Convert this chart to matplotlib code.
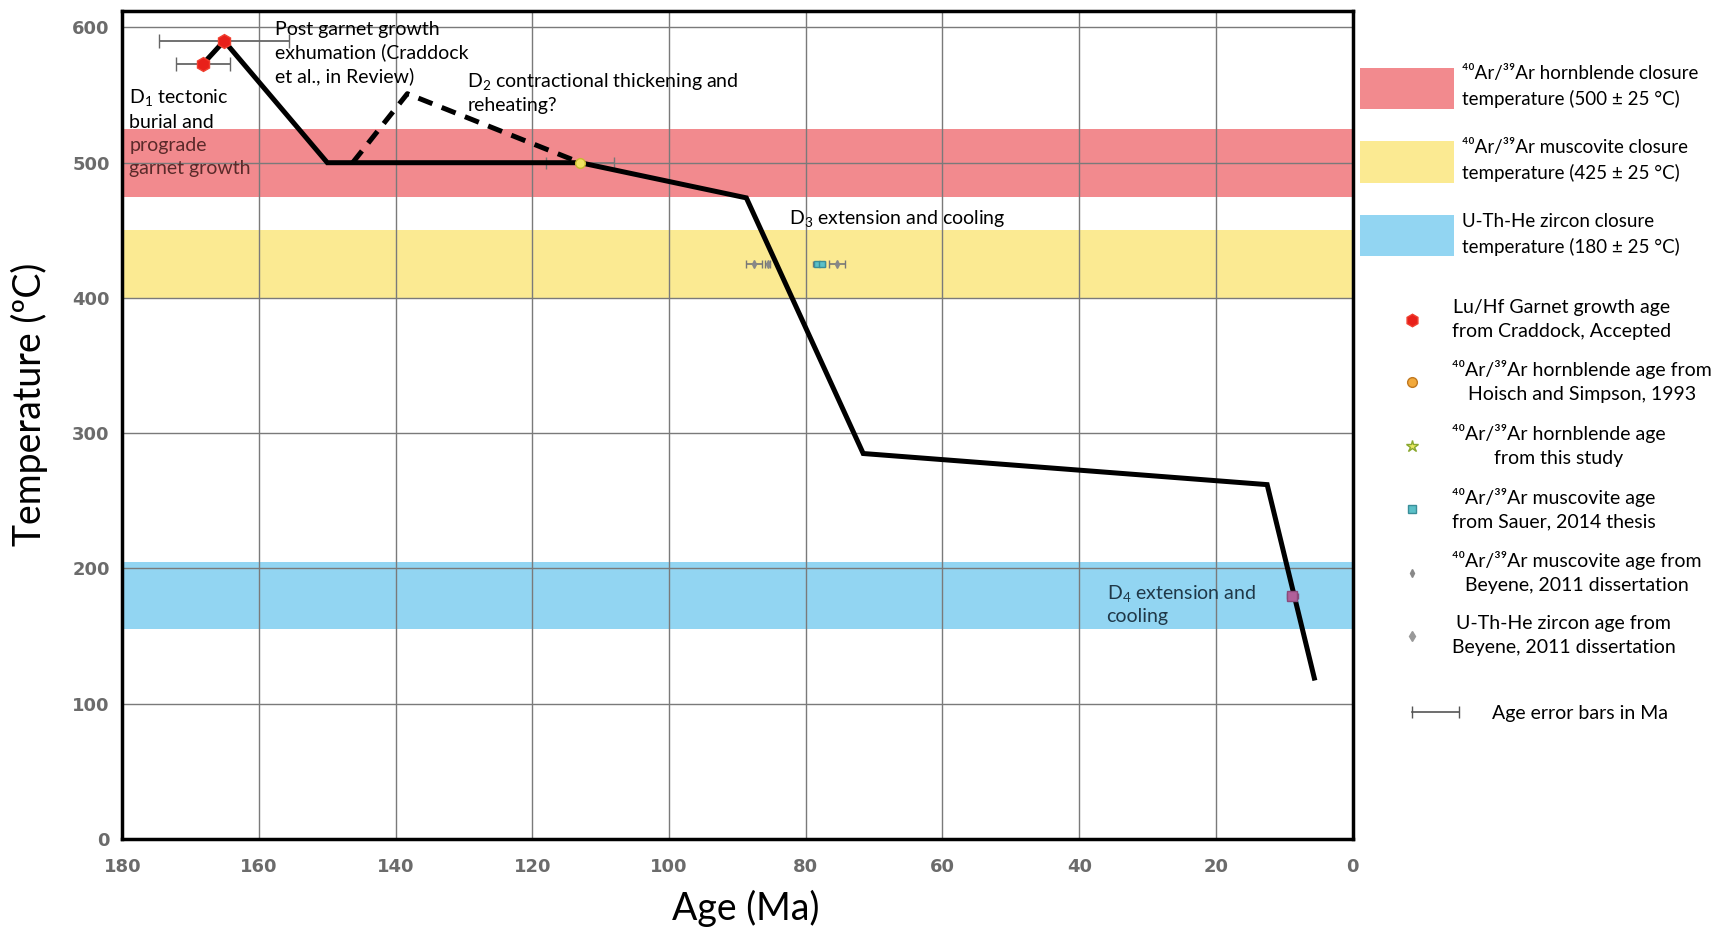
import matplotlib.pyplot as plt
from matplotlib.lines import Line2D
from matplotlib.patches import Patch
from matplotlib.legend_handler import HandlerLine2D

plt.rcParams['mathtext.fontset'] = 'custom'
plt.rcParams['mathtext.rm'] = 'Lato'
plt.rcParams['mathtext.it'] = 'Lato:italic'
plt.rcParams['mathtext.bf'] = 'Lato:bold'

# t-t path (age in Ma, temperature in C)
path_age = [168.2, 165.1, 150, 113, 88.7, 71.6, 12.5, 5.6]
path_temp = [573, 590, 500, 500, 474, 285, 262, 119]
dash_age = [146.3, 138.3, 113]
dash_temp = [500, 551, 500]

# closure temperature bands (centre, +/-)
band_temp = [500, 425, 180]
band_err = [25, 25, 25]
band_colors = ['#F28A8E', '#FBEA92', '#92D5F2']
band_labels = ['⁴⁰Ar/³⁹Ar hornblende closure\ntemperature (500 ± 25 °C)',
               '⁴⁰Ar/³⁹Ar muscovite closure\ntemperature (425 ± 25 °C)',
               'U-Th-He zircon closure\ntemperature (180 ± 25 °C)']

# age data
garnet_age = [168.2, 165.1]
garnet_temp = [573, 590]
garnet_err = [4, 9.5]
hoisch_age = [113]
hoisch_temp = [500]
hoisch_err = [5]
sauer_age = [78.4, 77.7]
sauer_temp = [425, 425]
sauer_err = [0.5, 0.5]
beyene_musc_age = [87.6, 85.6, 75.4]
beyene_musc_temp = [425, 425, 425]
beyene_musc_err = [1.2, 0.4, 1.2]
zircon_age = [8.8]
zircon_temp = [180]
zircon_err = [0.8]

txt = ['Lato', 'DejaVu Sans']

fig = plt.figure(figsize=(17.13, 9.34), dpi=100)
ax = fig.add_axes([0.0714, 0.1017, 0.7182, 0.8863])

for t, e, c in zip(band_temp, band_err, band_colors):
    ax.axhspan(t - e, t + e, color=c, lw=0, zorder=0.3)

ax.set_axisbelow(True)
ax.grid(True, color='#7a7a7a', lw=1)

ax.errorbar(garnet_age, garnet_temp, xerr=garnet_err, fmt='none', ecolor='#666666',
            elinewidth=1.3, capsize=5, zorder=2)
ax.errorbar(hoisch_age, hoisch_temp, xerr=hoisch_err, fmt='none', ecolor='#777777',
            elinewidth=1.2, capsize=4, zorder=2)
ax.errorbar(beyene_musc_age, beyene_musc_temp, xerr=beyene_musc_err, fmt='d', color='#888888',
            ms=4, ecolor='#777777', elinewidth=1.2, capsize=3, zorder=2)
ax.errorbar(sauer_age, sauer_temp, xerr=sauer_err, fmt='s', mfc='#5BC0C8', mec='#3A8E99',
            ms=5, ecolor='#777777', elinewidth=1, capsize=2, zorder=2)
ax.errorbar(zircon_age, zircon_temp, xerr=zircon_err, fmt='s', mfc='#B0609A', mec='#8a4a7a',
            ms=7, ecolor='#8a4a7a', elinewidth=1, capsize=2, zorder=4)

ax.plot(path_age, path_temp, color='black', lw=3.6, solid_joinstyle='miter', zorder=3)
ax.plot(dash_age, dash_temp, color='black', lw=3.6, ls=(0, (3, 2)), zorder=3)

ax.plot(garnet_age, garnet_temp, 'h', ms=10, mfc='#E8201A', mec='#F04030', ls='none', zorder=5)
ax.plot(hoisch_age, hoisch_temp, 'o', ms=7, mfc='#F0E060', mec='#C8B830', ls='none', zorder=5)

ax.text(179, 556, 'D$_1$ tectonic\nburial and', family=txt, fontsize=14, va='top',
        linespacing=1.4)
ax.text(179, 519, 'prograde\ngarnet growth', family=txt, fontsize=14, va='top',
        color='#5a2a2a', linespacing=1.4)
ax.text(157.6, 605, 'Post garnet growth\nexhumation (Craddock\net al., in Review)', family=txt,
        fontsize=14, va='top', linespacing=1.4)
ax.text(129.5, 568, 'D$_2$ contractional thickening and\nreheating?', family=txt, fontsize=14,
        va='top', linespacing=1.35)
ax.text(82.5, 459, 'D$_3$ extension and cooling', family=txt, fontsize=14, va='center')
ax.text(36, 174, 'D$_4$ extension and\ncooling', family=txt, fontsize=14, va='center',
        color='#1f3848', linespacing=1.3)

ax.set_xlim(180, 0)
ax.set_ylim(0, 612)
ax.set_xticks(range(180, -1, -20))
ax.set_yticks(range(0, 601, 100))
ax.tick_params(length=0, labelsize=13, labelcolor='#6b6b6b')
ax.tick_params(axis='x', pad=14)
ax.tick_params(axis='y', pad=9)
for lab in ax.get_xticklabels() + ax.get_yticklabels():
    lab.set_fontweight('bold')
for s in ax.spines.values():
    s.set_linewidth(2.5)

ax.set_xlabel('Age (Ma)', family=txt, fontsize=27)
ax.set_ylabel('Temperature (ºC)', family=txt, fontsize=27)
ax.xaxis.set_label_coords(0.507, -0.062)
ax.yaxis.set_label_coords(-0.06, 0.525)

# legends
band_handles = [Patch(facecolor=c, edgecolor='none') for c in band_colors]
leg1 = fig.legend(band_handles, band_labels, loc='upper left', bbox_to_anchor=(0.794, 0.930),
                  frameon=False, prop={'family': txt, 'size': 13.5}, handlelength=5.0,
                  handleheight=3.0, handletextpad=0.45, labelspacing=1.62, borderpad=0,
                  borderaxespad=0)
for t in leg1.get_texts():
    t.set_linespacing(1.5)

marker_handles = [
    Line2D([], [], marker='h', ls='none', ms=9, mfc='#E8201A', mec='#F04030'),
    Line2D([], [], marker='o', ls='none', ms=7, mfc='#F2A93B', mec='#C07820'),
    Line2D([], [], marker='*', ls='none', ms=9, mfc='#E8E860', mec='#8AA830'),
    Line2D([], [], marker='s', ls='none', ms=6, mfc='#5BC0C8', mec='#3A8E99'),
    Line2D([], [], marker='d', ls='none', ms=4, mfc='#888888', mec='#888888'),
    Line2D([], [], marker='d', ls='none', ms=5, mfc='#999999', mec='#999999'),
]
marker_labels = ['Lu/Hf Garnet growth age\nfrom Craddock, Accepted',
                 '⁴⁰Ar/³⁹Ar hornblende age from\nHoisch and Simpson, 1993',
                 '⁴⁰Ar/³⁹Ar hornblende age\nfrom this study',
                 '⁴⁰Ar/³⁹Ar muscovite age\nfrom Sauer, 2014 thesis',
                 '⁴⁰Ar/³⁹Ar muscovite age from\nBeyene, 2011 dissertation',
                 'U-Th-He zircon age from\nBeyene, 2011 dissertation']
leg2 = fig.legend(marker_handles, marker_labels, loc='upper left', bbox_to_anchor=(0.817, 0.680),
                  frameon=False, prop={'family': txt, 'size': 14}, handlelength=1.3,
                  handletextpad=1.4, labelspacing=1.06, borderpad=0, borderaxespad=0)
for t in leg2.get_texts():
    t.set_multialignment('center')
    t.set_linespacing(1.5)

err_handle = Line2D([], [], color='#555555', lw=1.2, marker='|', ms=8)
leg3 = fig.legend([err_handle], ['Age error bars in Ma'], loc='upper left',
                  bbox_to_anchor=(0.821, 0.245), frameon=False,
                  prop={'family': txt, 'size': 14}, handlelength=3.0, handletextpad=1.4,
                  borderpad=0, borderaxespad=0,
                  handler_map={err_handle: HandlerLine2D(numpoints=2)})

fig.savefig('out.png', dpi=100)
